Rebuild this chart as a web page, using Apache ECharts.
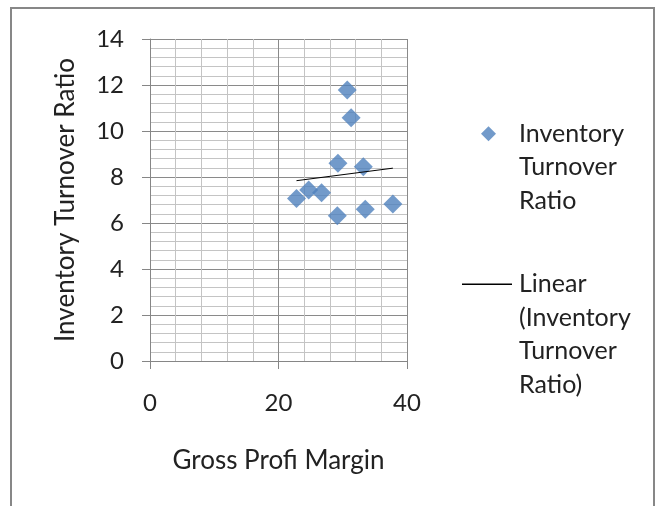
<!DOCTYPE html>
<html>
<head>
<meta charset="utf-8">
<script src="https://cdn.jsdelivr.net/npm/echarts@6/dist/echarts.min.js"></script>
<style>html,body{margin:0;padding:0;background:#fff}#c{width:660px;height:506px}</style>
</head>
<body>
<div id="c"></div>
<script>
const grossProfitMargin = [30.7, 31.3, 29.25, 33.2, 22.8, 24.7, 26.7, 29.15, 33.5, 37.8];
const inventoryTurnover = [11.78, 10.58, 8.6, 8.45, 7.07, 7.43, 7.32, 6.32, 6.6, 6.83];
const seriesName = 'Inventory Turnover Ratio';
const trendName = 'Linear (Inventory Turnover Ratio)';

// least-squares trendline over the data range
const n = grossProfitMargin.length;
const mx = grossProfitMargin.reduce((a, b) => a + b, 0) / n;
const my = inventoryTurnover.reduce((a, b) => a + b, 0) / n;
let sxy = 0, sxx = 0;
for (let i = 0; i < n; i++) {
  sxy += (grossProfitMargin[i] - mx) * (inventoryTurnover[i] - my);
  sxx += (grossProfitMargin[i] - mx) ** 2;
}
const slope = sxy / sxx, icpt = my - slope * mx;
const xmin = Math.min(...grossProfitMargin), xmax = Math.max(...grossProfitMargin);
const trend = [[xmin, icpt + slope * xmin], [xmax, icpt + slope * xmax]];

const font = 'Lato, "Open Sans", sans-serif';
const chart = echarts.init(document.getElementById('c'));
chart.setOption({
  animation: false,
  backgroundColor: '#fff',
  graphic: [{
    type: 'rect', shape: {x: 11, y: 8, width: 643, height: 520},
    style: {fill: 'none', stroke: '#878787', lineWidth: 2}, silent: true
  }],
  grid: {left: 150, top: 39, right: 253, bottom: 145},
  xAxis: {
    type: 'value', min: 0, max: 40, interval: 20,
    name: 'Gross Profi Margin', nameLocation: 'middle', nameGap: 87,
    nameTextStyle: {fontFamily: font, fontSize: 26, color: '#222'},
    axisLine: {show: true, onZero: false, lineStyle: {color: '#868686'}},
    axisTick: {show: true, length: 8, lineStyle: {color: '#868686'}},
    axisLabel: {fontFamily: font, fontSize: 24, color: '#222', margin: 30},
    splitLine: {show: true, lineStyle: {color: '#8a8a8a', width: 1}},
    minorTick: {show: false, splitNumber: 5},
    minorSplitLine: {show: true, lineStyle: {color: '#c4c4c4', width: 1}}
  },
  yAxis: {
    type: 'value', min: 0, max: 14, interval: 2,
    name: 'Inventory Turnover Ratio', nameLocation: 'middle', nameGap: 71,
    nameTextStyle: {fontFamily: font, fontSize: 26, color: '#222'},
    axisLine: {show: true, onZero: false, lineStyle: {color: '#868686'}},
    axisTick: {show: true, length: 8, lineStyle: {color: '#868686'}},
    axisLabel: {fontFamily: font, fontSize: 24, color: '#222', margin: 26},
    splitLine: {show: true, lineStyle: {color: '#8a8a8a', width: 1}},
    minorTick: {show: false, splitNumber: 5},
    minorSplitLine: {show: true, lineStyle: {color: '#c4c4c4', width: 1}}
  },
  legend: [{
    data: [{name: seriesName, icon: 'diamond'}],
    left: 476, top: 45, orient: 'vertical', itemWidth: 15, itemHeight: 15, itemGap: 10,
    formatter: () => '\n\nInventory\nTurnover\nRatio',
    textStyle: {fontFamily: font, fontSize: 25, color: '#222', lineHeight: 33.5, padding: [0, 0, 0, 18]}
  }, {
    data: [{name: trendName, icon: 'rect'}],
    left: 457, top: 162, orient: 'vertical', itemWidth: 50, itemHeight: 1.3, itemGap: 10,
    formatter: () => '\n\n\nLinear\n(Inventory\nTurnover\nRatio)',
    textStyle: {fontFamily: font, fontSize: 25, color: '#222', lineHeight: 33.5, padding: [0, 0, 0, 2]}
  }],
  series: [{
    name: seriesName, type: 'scatter', symbol: 'diamond', symbolSize: 19,
    itemStyle: {color: '#4F81BD'},
    data: grossProfitMargin.map((x, i) => [x, inventoryTurnover[i]]),
    z: 3
  }, {
    name: trendName, type: 'line', data: trend, symbol: 'none',
    lineStyle: {color: '#000', width: 1}, itemStyle: {color: '#000'}, z: 4
  }]
});
</script>
</body>
</html>
